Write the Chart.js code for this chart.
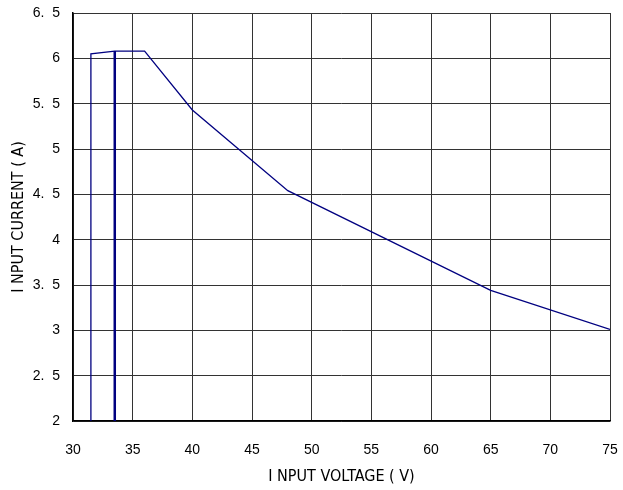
<!DOCTYPE html>
<html>
<head>
<meta charset="utf-8">
<script src="https://cdn.jsdelivr.net/npm/chart.js@4/dist/chart.umd.min.js"></script>
<style>
  html, body { margin: 0; padding: 0; background: #fff; }
  #wrap { width: 623px; height: 490px; }
</style>
</head>
<body>
<div id="wrap"><canvas id="chart"></canvas></div>
<script>
// data
const voltage = [31.5, 31.5, 33.5, 36, 40, 48, 65, 75];
const current = [2, 6.05, 6.08, 6.08, 5.43, 4.54, 3.44, 3.01];
// heavy marker line at 33.5 V
const markerVoltage = [33.5, 33.5];
const markerCurrent = [2, 6.08];

const xTicks = [30, 35, 40, 45, 50, 55, 60, 65, 70, 75];
const yTicks = [2, 2.5, 3, 3.5, 4, 4.5, 5, 5.5, 6, 6.5];

const toPoints = (xs, ys) => xs.map((x, i) => ({ x: x, y: ys[i] }));
const fmt = (v) => String(v).replace(".", ".  ");

const tickFont = { family: "'Liberation Sans', Arial, sans-serif", size: 14 };
const titleFont = { family: "'DejaVu Sans Condensed', 'Liberation Sans Narrow', sans-serif", size: 16 };

const config = {
  type: "scatter",
  data: {
    datasets: [
      {
        data: toPoints(voltage, current),
        showLine: true,
        borderColor: "#000080",
        borderWidth: 1.3,
        pointRadius: 0,
        tension: 0,
      },
      {
        data: toPoints(markerVoltage, markerCurrent),
        showLine: true,
        borderColor: "#000080",
        borderWidth: 2.5,
        pointRadius: 0,
      },
    ],
  },
  options: {
    responsive: true,
    maintainAspectRatio: false,
    animation: false,
    layout: { padding: { top: 13, right: 13, left: 0, bottom: 0 } },
    scales: {
      x: {
        type: "linear",
        min: 30,
        max: 75,
        afterBuildTicks: (axis) => { axis.ticks = xTicks.map((v) => ({ value: v })); },
        afterFit: (axis) => {
          axis.height = 69;
          axis.paddingLeft = 0;
          axis.paddingRight = 0;
        },
        grid: { color: "#333", lineWidth: 1, drawTicks: false },
        border: { color: "#000", width: 1.5 },
        ticks: { color: "#000", font: tickFont, padding: 21, maxRotation: 0, callback: (v) => fmt(v) },
        title: { display: true, text: "I NPUT VOLTAGE ( V)", color: "#000", font: titleFont, padding: { top: 2 } },
      },
      y: {
        type: "linear",
        min: 2,
        max: 6.5,
        afterBuildTicks: (axis) => { axis.ticks = yTicks.map((v) => ({ value: v })); },
        afterFit: (axis) => {
          axis.width = 73;
          axis.paddingTop = 0;
          axis.paddingBottom = 0;
        },
        grid: { color: "#333", lineWidth: 1, drawTicks: false },
        border: { color: "#000", width: 1.5 },
        ticks: { color: "#000", font: tickFont, padding: 13, callback: (v) => fmt(v) },
        title: { display: true, text: "I NPUT CURRENT ( A)", color: "#000", font: titleFont, padding: { top: 9, bottom: 4 } },
      },
    },
    plugins: {
      legend: { display: false },
      tooltip: { enabled: false },
    },
  },
};

new Chart(document.getElementById("chart").getContext("2d"), config);
</script>
</body>
</html>
